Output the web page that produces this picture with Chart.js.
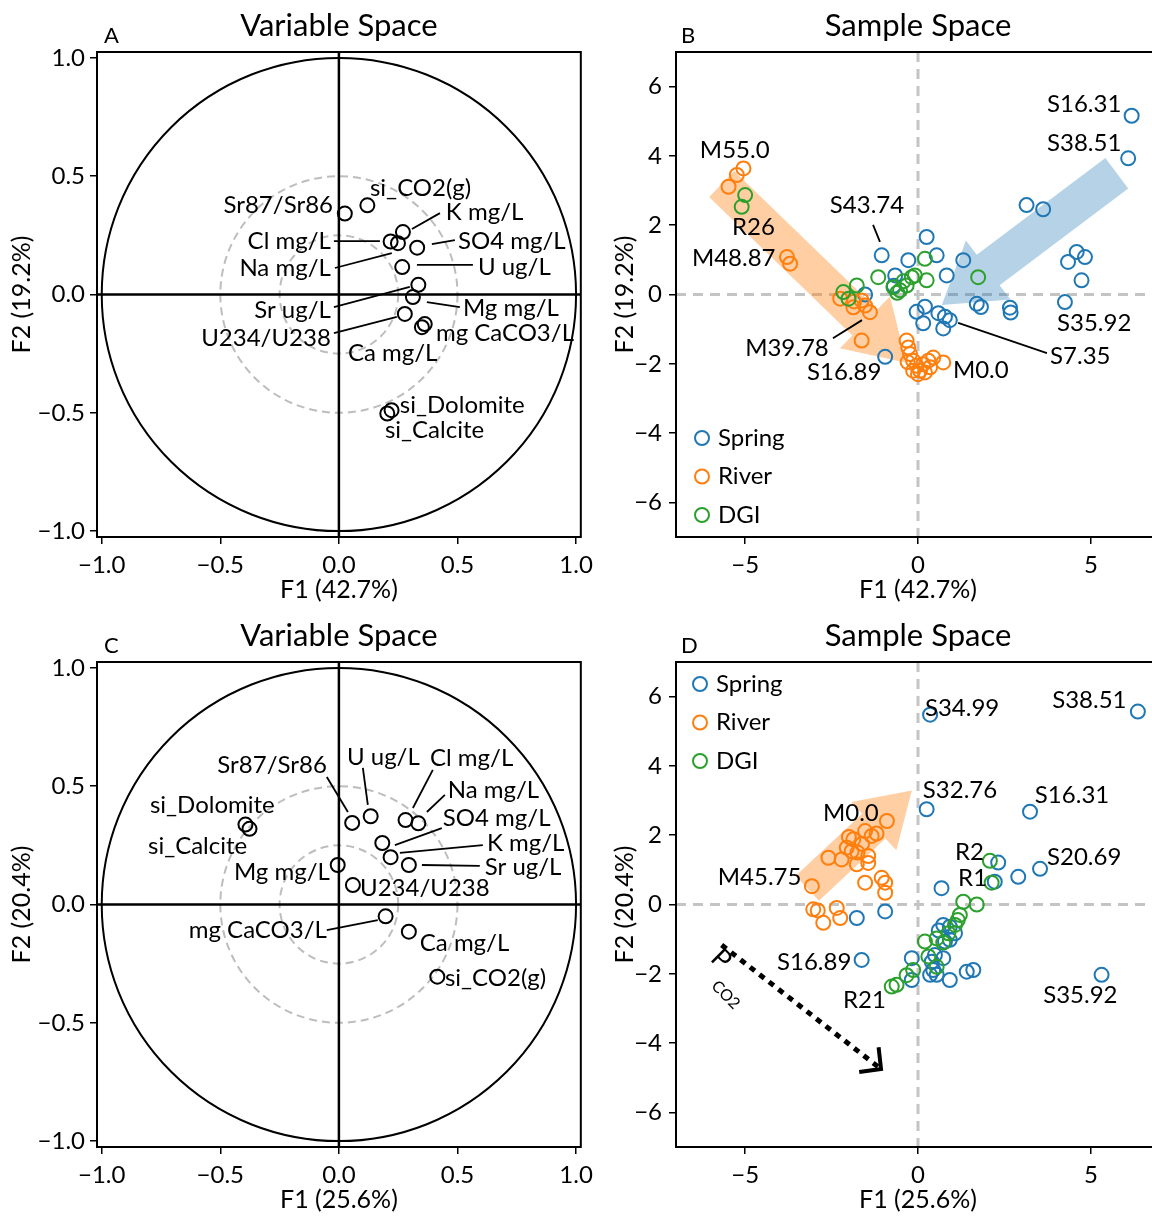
<!DOCTYPE html>
<html><head><meta charset="utf-8"><title>PCA variable and sample space</title>
<script src="https://cdn.jsdelivr.net/npm/chart.js@4.4.1/dist/chart.umd.min.js"></script>
<style>
html,body{margin:0;padding:0;background:#fff;overflow:hidden;}
body{width:1152px;height:1216px;position:relative;}
canvas{position:absolute;display:block;}
</style></head><body>
<canvas id="pA" width="600" height="610" style="left:0;top:0"></canvas>
<canvas id="pB" width="580" height="610" style="left:600px;top:0"></canvas>
<canvas id="pC" width="600" height="610" style="left:0;top:610px"></canvas>
<canvas id="pD" width="580" height="610" style="left:600px;top:610px"></canvas>
<script>
// ---------------- DATA ----------------
// Panel A: variable loadings (PCA 1)
const varNamesA = ['Sr87/Sr86','si_CO2(g)','K mg/L','Cl mg/L','Na mg/L','SO4 mg/L','U ug/L','Sr ug/L','Mg mg/L','U234/U238','Ca mg/L','mg CaCO3/L','si_Dolomite','si_Calcite'];
const f1A = [0.025,0.12,0.27,0.218,0.249,0.33,0.267,0.335,0.312,0.278,0.35,0.362,0.222,0.204];
const f2A = [0.342,0.377,0.264,0.224,0.217,0.198,0.116,0.041,-0.011,-0.082,-0.138,-0.125,-0.489,-0.503];

// Panel C: variable loadings (PCA 2)
const varNamesC = ['Sr87/Sr86','U ug/L','Cl mg/L','Na mg/L','SO4 mg/L','K mg/L','Sr ug/L','Mg mg/L','U234/U238','mg CaCO3/L','Ca mg/L','si_CO2(g)','si_Dolomite','si_Calcite'];
const f1C = [0.056,0.134,0.281,0.335,0.183,0.218,0.295,-0.005,0.059,0.197,0.295,0.415,-0.394,-0.377];
const f2C = [0.345,0.373,0.357,0.343,0.26,0.2,0.167,0.167,0.082,-0.05,-0.115,-0.305,0.338,0.32];

// Panel B: sample scores (PCA 1)
const springF1B = [6.18,6.08,3.14,3.62,4.59,4.34,4.83,4.73,4.25,2.66,2.68,1.70,1.82,1.31,0.25,0.54,-0.28,0.83,-1.05,-0.66,-0.04,0.15,0.59,0.78,0.73,0.92,-0.95,-1.53,-0.70,0.20];
const springF2B = [5.16,3.93,2.58,2.46,1.23,0.94,1.08,0.41,-0.22,-0.38,-0.52,-0.27,-0.36,0.99,1.66,1.13,0.99,0.55,1.13,0.55,-0.50,-0.83,-0.54,-0.64,-0.98,-0.74,-1.80,0.00,0.25,-0.35];
const riverF1B = [-5.05,-5.24,-5.48,-3.79,-3.70,-2.25,-1.87,-1.63,-1.53,-1.39,-1.63,-0.33,-0.28,-0.23,-0.14,-0.04,0.15,0.30,0.06,0.73,0.44,-0.14,0.20,0.00,0.35,-0.30,-1.85];
const riverF2B = [3.64,3.45,3.11,1.08,0.89,-0.12,-0.37,-0.17,-0.32,-0.51,-1.33,-1.33,-1.53,-1.72,-1.91,-2.06,-2.01,-1.91,-2.20,-1.96,-1.82,-2.20,-2.25,-2.30,-2.10,-1.95,-0.20];
const dgiF1B = [-5.00,-5.10,0.20,-1.15,-0.71,-0.52,-0.33,-0.18,-0.09,0.25,1.74,-2.16,-1.77,-2.01,-0.60,-0.42];
const dgiF2B = [2.87,2.53,1.03,0.50,0.21,0.12,0.26,0.50,0.55,0.41,0.50,0.07,0.26,-0.12,0.05,0.38];

// Panel D: sample scores (PCA 2)
const springF1D = [0.35,6.36,0.25,3.24,3.53,2.90,2.32,2.22,0.68,-1.77,-0.95,-1.63,5.31,0.73,0.92,1.07,0.92,0.78,0.49,0.73,-0.18,0.40,0.44,0.35,0.54,-0.18,0.92,1.41,1.60,0.60];
const springF2D = [5.48,5.57,2.75,2.68,1.03,0.80,1.21,0.66,0.47,-0.39,-0.20,-1.60,-2.03,-0.59,-0.64,-0.83,-1.02,-1.07,-1.46,-1.55,-1.55,-1.65,-1.89,-2.03,-2.03,-2.18,-2.18,-1.94,-1.89,-0.75];
const riverF1D = [-0.90,-1.53,-1.34,-1.87,-2.06,-1.92,-1.44,-2.59,-2.21,-1.77,-1.44,-1.05,-1.53,-0.95,-0.95,-3.07,-3.03,-2.90,-2.35,-2.25,-2.74,-1.62,-1.75,-2.00,-1.20];
const riverF2D = [2.41,2.12,1.98,1.88,1.64,1.54,1.40,1.35,1.30,1.16,1.20,0.77,0.63,0.63,0.34,0.53,-0.14,-0.17,-0.10,-0.39,-0.53,1.75,1.50,1.95,2.05];
const dgiF1D = [2.08,2.13,1.31,1.70,1.21,1.07,0.88,0.54,0.20,0.73,-0.14,-0.33,-0.62,-0.76,0.54,0.30,1.15];
const dgiF2D = [1.26,0.63,0.08,0.00,-0.30,-0.59,-0.83,-0.98,-1.07,-1.10,-1.89,-2.04,-2.32,-2.37,-1.80,-1.50,-0.45];

// Tick values and labels
const varTicks = [-1, -0.5, 0, 0.5, 1];
const varTickLabels = ['\u22121.0','\u22120.5','0.0','0.5','1.0'];
const sampleXTicks = [-5, 0, 5];
const sampleXTickLabels = ['\u22125','0','5'];
const sampleYTicks = [-6, -4, -2, 0, 2, 4, 6];
const sampleYTickLabels = ['\u22126','\u22124','\u22122','0','2','4','6'];

const groupNames = ['Spring', 'River', 'DGI'];
const groupColors = ['#1f77b4', '#ff7f0e', '#2ca02c'];

// ---------------- ANNOTATIONS (data coordinates) ----------------
const labelsA = [
  {t:'Sr87/Sr86', x:-0.025, y:0.378, a:'right'},
  {t:'si_CO2(g)', x:0.131, y:0.450, a:'left'},
  {t:'K mg/L', x:0.451, y:0.349, a:'left'},
  {t:'Cl mg/L', x:-0.034, y:0.226, a:'right'},
  {t:'Na mg/L', x:-0.034, y:0.112, a:'right'},
  {t:'SO4 mg/L', x:0.502, y:0.226, a:'left'},
  {t:'U ug/L', x:0.586, y:0.116, a:'left'},
  {t:'Sr ug/L', x:-0.034, y:-0.066, a:'right'},
  {t:'Mg mg/L', x:0.523, y:-0.057, a:'left'},
  {t:'U234/U238', x:-0.034, y:-0.184, a:'right'},
  {t:'Ca mg/L', x:0.038, y:-0.247, a:'left'},
  {t:'mg CaCO3/L', x:0.409, y:-0.163, a:'left'},
  {t:'si_Dolomite', x:0.257, y:-0.467, a:'left'},
  {t:'si_Calcite', x:0.194, y:-0.573, a:'left'}
];
const leadersA = [
  [0.308,0.277,0.426,0.344], [-0.021,0.226,0.173,0.226], [-0.017,0.112,0.223,0.175],
  [0.392,0.213,0.489,0.230], [0.329,0.125,0.565,0.125], [-0.021,-0.053,0.299,0.032],
  [0.371,-0.032,0.510,-0.053], [-0.021,-0.163,0.244,-0.095]
];
const labelsC = [
  {t:'Sr87/Sr86', x:-0.051, y:0.590, a:'right'},
  {t:'U ug/L', x:0.034, y:0.623, a:'left'},
  {t:'Cl mg/L', x:0.384, y:0.619, a:'left'},
  {t:'Na mg/L', x:0.459, y:0.484, a:'left'},
  {t:'SO4 mg/L', x:0.438, y:0.366, a:'left'},
  {t:'K mg/L', x:0.624, y:0.260, a:'left'},
  {t:'Sr ug/L', x:0.615, y:0.158, a:'left'},
  {t:'Mg mg/L', x:-0.038, y:0.137, a:'right'},
  {t:'U234/U238', x:0.089, y:0.070, a:'left'},
  {t:'mg CaCO3/L', x:-0.051, y:-0.108, a:'right'},
  {t:'Ca mg/L', x:0.341, y:-0.163, a:'left'},
  {t:'si_CO2(g)', x:0.447, y:-0.311, a:'left'},
  {t:'si_Dolomite', x:-0.797, y:0.421, a:'left'},
  {t:'si_Calcite', x:-0.805, y:0.248, a:'left'}
];
const leadersC = [
  [-0.051,0.539,0.038,0.391], [0.101,0.577,0.122,0.421], [0.396,0.569,0.312,0.408],
  [0.447,0.463,0.371,0.391], [0.434,0.323,0.236,0.251], [0.607,0.251,0.257,0.218],
  [0.594,0.163,0.350,0.167], [-0.051,-0.108,0.164,-0.066]
];
const labelsB = [
  {t:'S16.31', x:3.73, y:5.50, a:'left'},
  {t:'S38.51', x:3.73, y:4.37, a:'left'},
  {t:'M55.0', x:-6.31, y:4.17, a:'left'},
  {t:'R26', x:-5.38, y:1.95, a:'left'},
  {t:'S43.74', x:-2.55, y:2.58, a:'left'},
  {t:'M48.87', x:-6.54, y:1.05, a:'left'},
  {t:'S35.92', x:4.02, y:-0.82, a:'left'},
  {t:'S7.35', x:3.82, y:-1.78, a:'left'},
  {t:'M39.78', x:-5.00, y:-1.54, a:'left'},
  {t:'S16.89', x:-3.21, y:-2.24, a:'left'},
  {t:'M0.0', x:1.01, y:-2.18, a:'left'}
];
const leadersB = [
  [-1.30,2.01,-1.10,1.52], [1.16,-0.82,3.73,-1.69], [-1.62,-0.74,-2.46,-1.26]
];
const labelsD = [
  {t:'S34.99', x:0.20, y:5.67, a:'left'},
  {t:'S38.51', x:3.88, y:5.90, a:'left'},
  {t:'S32.76', x:0.14, y:3.31, a:'left'},
  {t:'S16.31', x:3.38, y:3.16, a:'left'},
  {t:'R2', x:1.07, y:1.52, a:'left'},
  {t:'S20.69', x:3.73, y:1.37, a:'left'},
  {t:'R1', x:1.16, y:0.77, a:'left'},
  {t:'M0.0', x:-2.75, y:2.64, a:'left'},
  {t:'M45.75', x:-5.79, y:0.79, a:'left'},
  {t:'S16.89', x:-4.08, y:-1.66, a:'left'},
  {t:'R21', x:-2.17, y:-2.76, a:'left'},
  {t:'S35.92', x:3.62, y:-2.61, a:'left'}
];
const arrowsB = [
  {x1:-5.68, y1:3.19, x2:-0.33, y2:-1.97, w:36, hw:72, hl:58, color:'rgba(255,127,14,0.38)'},
  {x1:5.75, y1:3.50, x2:0.69, y2:-0.30, w:38, hw:74, hl:58, color:'rgba(31,119,180,0.33)'}
];
const arrowsD = [
  {x1:-3.2, y1:0.47, x2:-0.18, y2:3.29, w:34, hw:66, hl:52, color:'rgba(255,127,14,0.38)'}
];

// ---------------- DRAWING ----------------
const FONT = 'Lato, "Open Sans", sans-serif';

function fatArrow(ctx, x1, y1, x2, y2, w, hw, hl, color) {
  const dx = x2 - x1, dy = y2 - y1, L = Math.hypot(dx, dy), ux = dx / L, uy = dy / L, px = -uy, py = ux;
  const bx = x2 - ux * hl, by = y2 - uy * hl;
  ctx.beginPath();
  ctx.moveTo(x1 + px * w / 2, y1 + py * w / 2);
  ctx.lineTo(bx + px * w / 2, by + py * w / 2);
  ctx.lineTo(bx + px * hw / 2, by + py * hw / 2);
  ctx.lineTo(x2, y2);
  ctx.lineTo(bx - px * hw / 2, by - py * hw / 2);
  ctx.lineTo(bx - px * w / 2, by - py * w / 2);
  ctx.lineTo(x1 - px * w / 2, y1 - py * w / 2);
  ctx.closePath();
  ctx.fillStyle = color;
  ctx.fill();
}

function makeDeco(cfg) {
  return {
    id: 'deco',
    beforeDatasetsDraw(chart) {
      const {ctx, chartArea: ca, scales: {x, y}} = chart;
      const x0 = x.getPixelForValue(0), y0 = y.getPixelForValue(0);
      ctx.save();
      ctx.beginPath(); ctx.rect(ca.left, ca.top, ca.width, ca.height); ctx.clip();
      if (cfg.circles) {
        for (const c of cfg.circles) {
          const rx = Math.abs(x.getPixelForValue(c.r) - x0), ry = Math.abs(y.getPixelForValue(c.r) - y0);
          ctx.beginPath(); ctx.ellipse(x0, y0, rx, ry, 0, 0, Math.PI * 2);
          ctx.setLineDash(c.dash || []); ctx.strokeStyle = c.color; ctx.lineWidth = c.width; ctx.stroke();
        }
        ctx.setLineDash([]); ctx.strokeStyle = '#000'; ctx.lineWidth = 2.5;
        ctx.beginPath(); ctx.moveTo(x0, ca.top); ctx.lineTo(x0, ca.bottom);
        ctx.moveTo(ca.left, y0); ctx.lineTo(ca.right, y0); ctx.stroke();
      }
      if (cfg.zeroDash) {
        ctx.setLineDash([10, 7]); ctx.strokeStyle = '#c4c4c4'; ctx.lineWidth = 3;
        ctx.beginPath(); ctx.moveTo(x0, ca.top); ctx.lineTo(x0, ca.bottom);
        ctx.moveTo(ca.left, y0); ctx.lineTo(ca.right, y0); ctx.stroke();
        ctx.setLineDash([]);
      }
      for (const a of (cfg.arrows || [])) {
        fatArrow(ctx, x.getPixelForValue(a.x1), y.getPixelForValue(a.y1), x.getPixelForValue(a.x2), y.getPixelForValue(a.y2), a.w, a.hw, a.hl, a.color);
      }
      if (cfg.pco2) {
        const p = cfg.pco2;
        const sx = x.getPixelForValue(p.x1), sy = y.getPixelForValue(p.y1);
        const ex = x.getPixelForValue(p.x2), ey = y.getPixelForValue(p.y2);
        ctx.strokeStyle = '#000'; ctx.lineWidth = 5; ctx.setLineDash([6, 6]);
        ctx.beginPath(); ctx.moveTo(sx, sy); ctx.lineTo(ex, ey); ctx.stroke();
        ctx.setLineDash([]); ctx.lineWidth = 4;
        const ang = Math.atan2(ey - sy, ex - sx);
        const hl = 22;
        ctx.beginPath();
        ctx.moveTo(ex + hl * Math.cos(ang + Math.PI - 0.8), ey + hl * Math.sin(ang + Math.PI - 0.8));
        ctx.lineTo(ex, ey);
        ctx.lineTo(ex + hl * Math.cos(ang + Math.PI + 0.8), ey + hl * Math.sin(ang + Math.PI + 0.8));
        ctx.stroke();
        ctx.fillStyle = '#000';
        ctx.save();
        ctx.translate(x.getPixelForValue(p.tx), y.getPixelForValue(p.ty));
        ctx.rotate(ang + 0.12);
        ctx.font = '27px ' + FONT; ctx.textAlign = 'left'; ctx.textBaseline = 'middle';
        ctx.fillText('P', 0, 0);
        ctx.font = '16px ' + FONT;
        ctx.fillText('CO2', 20, 22);
        ctx.restore();
      }
      ctx.restore();
    },
    afterDatasetsDraw(chart) {
      const {ctx, chartArea: ca, scales: {x, y}} = chart;
      ctx.save();
      ctx.strokeStyle = '#000'; ctx.lineWidth = 1.8;
      for (const l of (cfg.leaders || [])) {
        ctx.beginPath();
        ctx.moveTo(x.getPixelForValue(l[0]), y.getPixelForValue(l[1]));
        ctx.lineTo(x.getPixelForValue(l[2]), y.getPixelForValue(l[3]));
        ctx.stroke();
      }
      ctx.fillStyle = '#000'; ctx.font = cfg.labelFont; ctx.textBaseline = 'middle';
      for (const l of (cfg.labels || [])) {
        ctx.textAlign = l.a;
        ctx.fillText(l.t, x.getPixelForValue(l.x), y.getPixelForValue(l.y));
      }
      if (cfg.legend) {
        const lg = cfg.legend;
        chart.data.datasets.forEach((ds, i) => {
          const cy = lg.y + i * lg.dy;
          ctx.beginPath(); ctx.arc(lg.x, cy, 7, 0, Math.PI * 2);
          ctx.strokeStyle = ds.borderColor; ctx.lineWidth = 2; ctx.stroke();
          ctx.fillStyle = '#000'; ctx.textAlign = 'left'; ctx.font = '24px ' + FONT;
          ctx.fillText(ds.label, lg.x + 16, cy);
        });
      }
      // spines
      ctx.strokeStyle = '#000'; ctx.lineWidth = 2;
      ctx.strokeRect(ca.left, ca.top, ca.width, ca.height);
      // panel letter and title
      ctx.fillStyle = '#000'; ctx.textBaseline = 'middle';
      ctx.textAlign = 'left'; ctx.font = '22px ' + FONT;
      ctx.fillText(cfg.letter, cfg.letterX, 36);
      ctx.textAlign = 'center'; ctx.font = '31px ' + FONT;
      ctx.fillText(cfg.title, (ca.left + ca.right) / 2, 26);
      ctx.restore();
    }
  };
}

function axis(dir, min, max, ticks, labels, title, size, tickPad, titlePad) {
  return {
    type: 'linear', position: dir === 'x' ? 'bottom' : 'left', min: min, max: max,
    afterBuildTicks: s => { s.ticks = ticks.map(v => ({value: v})); },
    afterFit: s => { if (dir === 'x') s.height = size; else s.width = size; },
    ticks: { autoSkip: false, maxRotation: 0, minRotation: 0, padding: tickPad, color: '#000',
      font: {family: FONT, size: 24}, callback: (v, i) => labels[i] },
    grid: { drawOnChartArea: false, drawTicks: true, tickLength: 7, tickWidth: 1.5, tickColor: '#000', color: '#000', lineWidth: 1.5 },
    border: { display: false },
    title: { display: true, text: title, color: '#000', font: {family: FONT, size: 25},
      padding: dir === 'x' ? {top: 0, bottom: titlePad} : {top: titlePad, bottom: 0} }
  };
}

function pts(xs, ys) { return xs.map((v, i) => ({x: v, y: ys[i]})); }

function panel(id, o) {
  return new Chart(document.getElementById(id), {
    type: 'scatter',
    data: { datasets: o.datasets },
    options: {
      responsive: false, animation: false, events: [],
      layout: { padding: { left: 0, right: o.padRight, top: 52, bottom: 0 } },
      plugins: { legend: {display: false}, tooltip: {enabled: false}, title: {display: false} },
      scales: {
        x: axis('x', o.xMin, o.xMax, o.xTicks, o.xLabels, o.xTitle, 73, 7, 5),
        y: axis('y', o.yMin, o.yMax, o.yTicks, o.yLabels, o.yTitle, o.yWidth, o.yPad, o.yTitlePad)
      }
    },
    plugins: [makeDeco(o.deco)]
  });
}

function varDataset(xs, ys) {
  return [{ label: 'Variables', data: pts(xs, ys), borderColor: '#000', backgroundColor: 'rgba(0,0,0,0)',
    pointRadius: 7, pointBorderWidth: 2, pointStyle: 'circle' }];
}
function sampleDatasets(xs, ys) {
  return groupNames.map((n, i) => ({ label: n, data: pts(xs[i], ys[i]), borderColor: groupColors[i],
    backgroundColor: 'rgba(0,0,0,0)', pointRadius: 7, pointBorderWidth: 2, pointStyle: 'circle', order: 3 - i }));
}

const varCircles = [
  {r: 1, color: '#000', width: 2},
  {r: 0.5, color: '#bdbdbd', width: 2, dash: [8, 5]},
  {r: 0.25, color: '#bdbdbd', width: 2, dash: [8, 5]}
];

panel('pA', {
  datasets: varDataset(f1A, f2A), padRight: 19,
  xMin: -1.02, xMax: 1.02, xTicks: varTicks, xLabels: varTickLabels, xTitle: 'F1 (42.7%)',
  yMin: -1.025, yMax: 1.025, yTicks: varTicks, yLabels: varTickLabels, yTitle: 'F2 (19.2%)', yWidth: 97, yPad: 5, yTitlePad: 7,
  deco: { circles: varCircles, labels: labelsA, leaders: leadersA, labelFont: '24px ' + FONT, letter: 'A', letterX: 104, title: 'Variable Space' }
});
panel('pB', {
  datasets: sampleDatasets([springF1B, riverF1B, dgiF1B], [springF2B, riverF2B, dgiF2B]), padRight: 20,
  xMin: -7, xMax: 7, xTicks: sampleXTicks, xLabels: sampleXTickLabels, xTitle: 'F1 (42.7%)',
  yMin: -7, yMax: 7, yTicks: sampleYTicks, yLabels: sampleYTickLabels, yTitle: 'F2 (19.2%)', yWidth: 76, yPad: 7, yTitlePad: 10,
  deco: { zeroDash: true, arrows: arrowsB, labels: labelsB, leaders: leadersB, labelFont: '24px ' + FONT,
    legend: {x: 102, y: 438, dy: 38.5}, letter: 'B', letterX: 81, title: 'Sample Space' }
});
panel('pC', {
  datasets: varDataset(f1C, f2C), padRight: 19,
  xMin: -1.02, xMax: 1.02, xTicks: varTicks, xLabels: varTickLabels, xTitle: 'F1 (25.6%)',
  yMin: -1.025, yMax: 1.025, yTicks: varTicks, yLabels: varTickLabels, yTitle: 'F2 (20.4%)', yWidth: 97, yPad: 5, yTitlePad: 7,
  deco: { circles: varCircles, labels: labelsC, leaders: leadersC, labelFont: '24px ' + FONT, letter: 'C', letterX: 104, title: 'Variable Space' }
});
panel('pD', {
  datasets: sampleDatasets([springF1D, riverF1D, dgiF1D], [springF2D, riverF2D, dgiF2D]), padRight: 20,
  xMin: -7, xMax: 7, xTicks: sampleXTicks, xLabels: sampleXTickLabels, xTitle: 'F1 (25.6%)',
  yMin: -7, yMax: 7, yTicks: sampleYTicks, yLabels: sampleYTickLabels, yTitle: 'F2 (20.4%)', yWidth: 76, yPad: 7, yTitlePad: 10,
  deco: { zeroDash: true, arrows: arrowsD, labels: labelsD, leaders: [], labelFont: '24px ' + FONT,
    pco2: {x1: -5.68, y1: -1.17, x2: -1.07, y2: -4.75, tx: -5.86, ty: -1.42},
    legend: {x: 100, y: 74, dy: 38.5}, letter: 'D', letterX: 81, title: 'Sample Space' }
});
</script></body></html>
